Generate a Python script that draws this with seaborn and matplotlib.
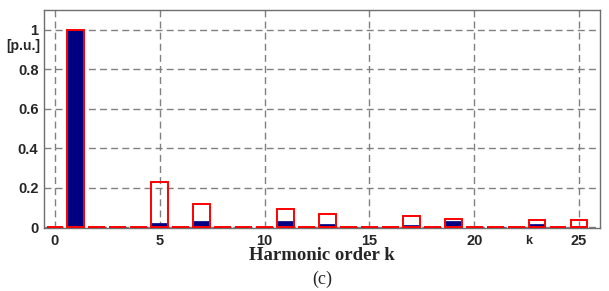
import matplotlib
matplotlib.use("Agg")
import matplotlib.pyplot as plt
import seaborn as sns
import pandas as pd
import numpy as np

harmonics = list(range(0, 26))
red_vals = [0.003, 1.0, 0.003, 0.003, 0.003, 0.23, 0.003, 0.117, 0.003, 0.003,
            0.003, 0.091, 0.003, 0.066, 0.003, 0.003, 0.003, 0.059, 0.003, 0.044,
            0.003, 0.003, 0.003, 0.04, 0.003, 0.035]
navy_vals = [0.0, 1.0, 0.0, 0.0, 0.0, 0.022, 0.0, 0.034, 0.0, 0.0,
             0.0, 0.03, 0.0, 0.019, 0.0, 0.0, 0.0, 0.014, 0.0, 0.03,
             0.0, 0.0, 0.0, 0.017, 0.0, 0.005]
xticks = [0, 5, 10, 15, 20, 25]
yticks = [0, 0.2, 0.4, 0.6, 0.8, 1]

df = pd.DataFrame({"k": harmonics, "red": red_vals, "navy": navy_vals})

sns.set_style("white")
fig = plt.figure(figsize=(6.09, 2.91), dpi=100)
ax = fig.add_axes([44/609, 1-228/291, 556/609, 218/291])

sns.barplot(data=df, x="k", y="navy", native_scale=True, width=0.8, saturation=1,
            color="#000080", edgecolor="#000080", linewidth=0.5, ax=ax, zorder=3)
sns.barplot(data=df, x="k", y="red", native_scale=True, width=0.8, saturation=1,
            fill=False, edgecolor="#ff0000", linewidth=1.4, ax=ax, zorder=4)

ax.set_xlim(-0.52, 26.0)
ax.set_ylim(-0.003, 1.1)
ax.set_xticks(xticks)
ax.set_xticklabels([str(t) for t in xticks])
ax.set_yticks(yticks)
ax.set_yticklabels(["0", "0.2", "0.4", "0.6", "0.8", "1"])
ax.grid(True, linestyle=(0, (5, 3)), color="#808080", linewidth=1.0, zorder=0)
ax.set_axisbelow(True)
ax.tick_params(length=0, pad=4)
for lab in ax.get_xticklabels() + ax.get_yticklabels():
    lab.set_fontfamily("Liberation Sans")
    lab.set_fontweight("bold")
    lab.set_fontsize(10.5)
for s in ax.spines.values():
    s.set_color("#6e6e6e")
    s.set_linewidth(1.0)
ax.set_xlabel("")
ax.set_ylabel("")

fig.text(6/609, 1-46/291, "[p.u.]", fontfamily="Liberation Sans", fontweight="bold",
         fontsize=10, ha="left", va="center")
fig.text(529/609, 1-241/291, "k", fontfamily="Liberation Sans", fontweight="bold",
         fontsize=9, ha="center", va="center")
fig.text(322/609, 1-256/291, "Harmonic order k", fontfamily="Liberation Serif",
         fontweight="bold", fontsize=13.5, ha="center", va="center")
fig.text(322/609, 1-279/291, "(c)", fontfamily="Liberation Serif",
         fontsize=13, ha="center", va="center")

fig.savefig("out.png", dpi=100)
